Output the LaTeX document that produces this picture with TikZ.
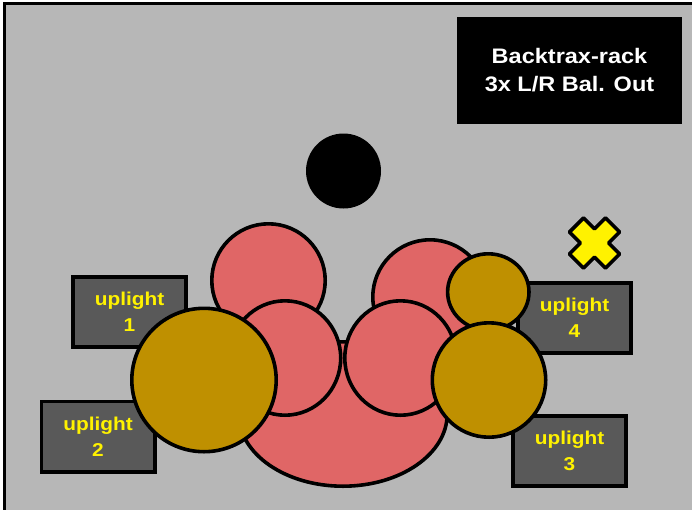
\documentclass[tikz,border=0pt]{standalone}
\usepackage{fontspec}
\setmainfont{Liberation Sans}[FakeStretch=1.12]
\usepackage{tikz}
\usetikzlibrary{positioning}
\definecolor{stagegray}{HTML}{B7B7B7}
\definecolor{riserred}{HTML}{E06666}
\definecolor{drumgold}{HTML}{BF9000}
\definecolor{lampgray}{HTML}{595959}
\tikzstyle{basefont}=[font=\bfseries\fontsize{18.6}{26}\selectfont]
\tikzstyle{outline}=[draw=black, line width=3.6pt]
\tikzstyle{pinkpad}=[outline, fill=riserred]
\tikzstyle{goldpad}=[outline, fill=drumgold]
\tikzstyle{uplight}=[basefont, outline, fill=lampgray, text=yellow, align=center,
                     minimum width=113.4pt, minimum height=70.4pt, inner sep=0pt]
\tikzstyle{rack}=[font=\bfseries\fontsize{21}{28}\selectfont, fill=black, text=white,
                  align=center, minimum width=225pt, minimum height=107pt]
\tikzstyle{cross}=[outline, fill=yellow, line join=round]

\begin{document}
\begin{tikzpicture}[x=1pt, y=-1pt]
        \useasboundingbox (0,0) rectangle (692,509);

        % Stage floor
        \fill[stagegray] (4,3) rectangle (700,515);
        \draw[line width=3pt] (4,515) -- (4,3) -- (700,3);

        % Rack box in the corner
        \node[rack] (backtrax) at (569.5,70.5) {Backtrax-rack\\3x L/R Bal. Out};

        % Black circle
        \fill[black] (343.5,171) circle [radius=37.5];

        % Pink risers, back to front
        \foreach \cx/\cy/\rx/\ry in {
            268.5/280.5/56.7/56.7,
            430/297/57.2/57.2,
            343/414/104.2/72.2,
            285/358/55.7/57.2,
            400.5/358/55.7/57.2
        }{
            \draw[pinkpad] (\cx,\cy) ellipse [x radius=\rx, y radius=\ry];
        }

        % Uplights
        \foreach \x/\y [count=\i] in {129.5/312, 98/436.5, 569.5/451, 574.5/318}{
            \node[uplight] (uplight\i) at (\x,\y) {uplight\\\i};
        }

        % Gold drums on top
        \foreach \cx/\cy/\rx/\ry in {
            488.3/292/40.7/38.2,
            204/380/72.2/71.7,
            489/380/56.7/57.2
        }{
            \draw[goldpad] (\cx,\cy) ellipse [x radius=\rx, y radius=\ry];
        }

        % Yellow X mark
        \def\armlen{25.5}
        \def\armwid{10}
        \begin{scope}[shift={(594.5,243)}, rotate=45]
            \draw[cross] (\armlen,\armwid) -- (\armlen,-\armwid) -- (\armwid,-\armwid)
                -- (\armwid,-\armlen) -- (-\armwid,-\armlen) -- (-\armwid,-\armwid)
                -- (-\armlen,-\armwid) -- (-\armlen,\armwid) -- (-\armwid,\armwid)
                -- (-\armwid,\armlen) -- (\armwid,\armlen) -- (\armwid,\armwid) -- cycle;
        \end{scope}
\end{tikzpicture}
\end{document}
